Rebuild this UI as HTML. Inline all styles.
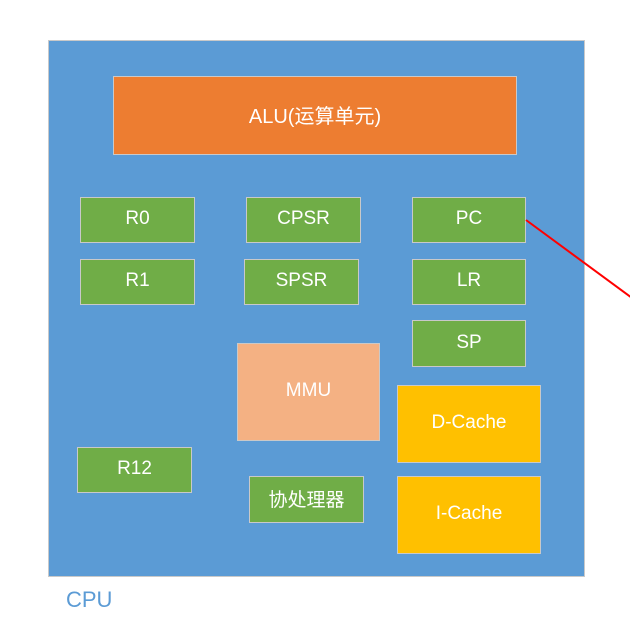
<!DOCTYPE html>
<html><head><meta charset="utf-8"><style>
body{margin:0;width:630px;height:624px;background:#fff;position:relative;overflow:hidden;font-family:"Liberation Sans","Noto Sans CJK SC",sans-serif}
.b{position:absolute;box-sizing:border-box;border:1px solid #c9c9c9;display:flex;align-items:center;justify-content:center;color:#fff;font-size:19px;padding-bottom:2px}
.g{background:#70ad47}
</style></head><body>
<div class="b" style="left:48px;top:40px;width:537px;height:537px;background:#5b9bd5"></div>
<div class="b" style="left:113px;top:76px;width:404px;height:79px;background:#ed7d31;font-size:20px">ALU(运算单元)</div>
<div class="b g" style="left:80px;top:197px;width:115px;height:46px">R0</div>
<div class="b g" style="left:246px;top:197px;width:115px;height:46px">CPSR</div>
<div class="b g" style="left:412px;top:197px;width:114px;height:46px">PC</div>
<div class="b g" style="left:80px;top:259px;width:115px;height:46px">R1</div>
<div class="b g" style="left:244px;top:259px;width:115px;height:46px">SPSR</div>
<div class="b g" style="left:412px;top:259px;width:114px;height:46px">LR</div>
<div class="b g" style="left:412px;top:320px;width:114px;height:47px">SP</div>
<div class="b" style="left:237px;top:343px;width:143px;height:98px;background:#f4b183">MMU</div>
<div class="b" style="left:397px;top:385px;width:144px;height:78px;background:#ffc000">D-Cache</div>
<div class="b" style="left:397px;top:476px;width:144px;height:78px;background:#ffc000">I-Cache</div>
<div class="b g" style="left:77px;top:447px;width:115px;height:46px">R12</div>
<div class="b g" style="left:249px;top:476px;width:115px;height:47px">协处理器</div>
<div style="position:absolute;left:66px;top:587px;color:#5b9bd5;font-size:22px">CPU</div>
<svg style="position:absolute;left:0;top:0" width="630" height="624"><line x1="526" y1="220" x2="632" y2="298" stroke="#f00" stroke-width="2"/></svg>
</body></html>
